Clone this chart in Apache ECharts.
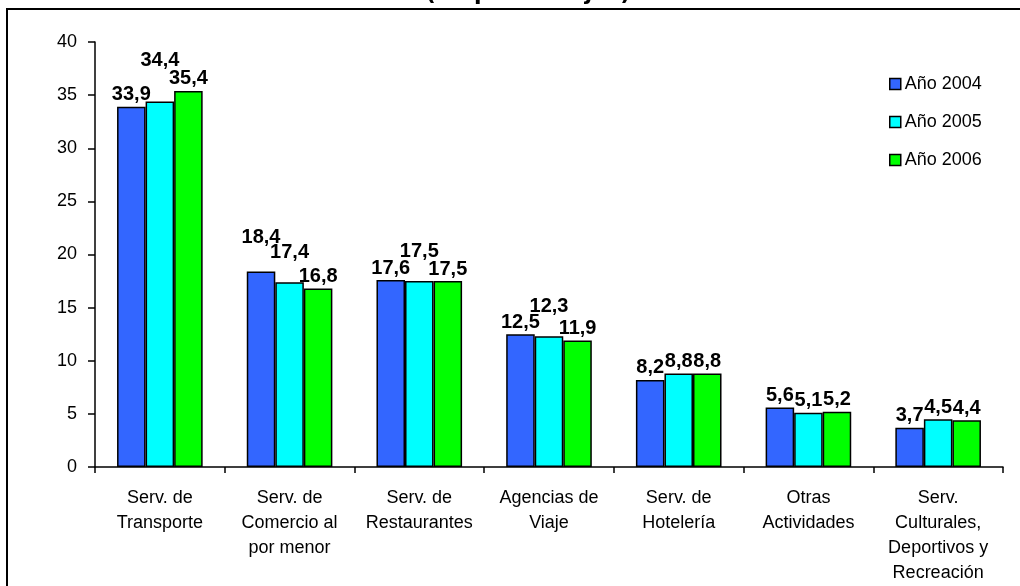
<!DOCTYPE html>
<html>
<head>
<meta charset="utf-8">
<script src="https://cdn.jsdelivr.net/npm/echarts@6/dist/echarts.min.js"></script>
<style>
html,body{margin:0;padding:0;background:#fff;}
#c{width:1020px;height:586px;}
</style>
</head>
<body>
<div id="c"></div>
<script>
const categories = [
  "Serv. de\nTransporte",
  "Serv. de\nComercio al\npor menor",
  "Serv. de\nRestaurantes",
  "Agencias de\nViaje",
  "Serv. de\nHotelería",
  "Otras\nActividades",
  "Serv.\nCulturales,\nDeportivos y\nRecreación"
];
const seriesNames = ["Año 2004", "Año 2005", "Año 2006"];
const values2004 = [33.9, 18.4, 17.6, 12.5, 8.2, 5.6, 3.7];
const values2005 = [34.4, 17.4, 17.5, 12.3, 8.8, 5.1, 4.5];
const values2006 = [35.4, 16.8, 17.5, 11.9, 8.8, 5.2, 4.4];
const yTicks = [0, 5, 10, 15, 20, 25, 30, 35, 40];
const titleText = "(en porcentajes)";

const colors = ["#3366FF", "#00FFFF", "#00FF00"];
const font = "Liberation Sans, Arial, sans-serif";

// Wide (4-character) labels of the middle bar collide with neighbours:
// lift them, as the original chart does.
function middleLift(p) {
  const i = p.dataIndex;
  if (p.labelRect.width <= p.rect.width + 10) return {};
  const pxPerUnit = p.rect.height / values2005[i];
  const extra = Math.max(0, values2006[i] - values2005[i]) * pxPerUnit;
  return { dy: -18 - extra };
}
function firstLift(p) {
  const i = p.dataIndex;
  const wide = p.labelRect.width > p.rect.width + 10;
  return wide && values2004[i] - values2005[i] > 0.8 ? { dy: -22 } : {};
}

function mk(name, data, color, layout) {
  return {
    name: name,
    type: "bar",
    data: data,
    barWidth: "22%",
    barGap: "0%",
    itemStyle: { color: color, borderColor: "#000", borderWidth: 1.5 },
    labelLayout: layout,
    label: {
      show: true,
      position: "top",
      distance: 2,
      color: "#000",
      fontFamily: font,
      fontWeight: "bold",
      fontSize: 20,
      formatter: p => String(p.value).replace(".", ",")
    }
  };
}

const chart = echarts.init(document.getElementById("c"), null, { renderer: "canvas" });
chart.setOption({
  backgroundColor: "#fff",
  animation: false,
  graphic: [
    {
      type: "rect",
      shape: { x: 7, y: 9, width: 1030, height: 600 },
      style: { fill: "none", stroke: "#000", lineWidth: 2 },
      z: 100
    },
    {
      type: "text",
      x: 528,
      y: -17,
      style: {
        text: titleText,
        fill: "#000",
        font: "bold 22px 'DejaVu Sans', sans-serif",
        align: "center",
        verticalAlign: "top"
      }
    }
  ],
  legend: {
    orient: "vertical",
    left: 884,
    top: 70,
    itemWidth: 11,
    itemHeight: 11,
    itemGap: 20,
    icon: "rect",
    textStyle: { fontFamily: font, fontSize: 18, color: "#000", padding: [0, 0, 0, -1] },
    itemStyle: { borderColor: "#000", borderWidth: 1.5 },
    data: seriesNames
  },
  grid: { left: 95, right: 17, top: 42, bottom: 119, containLabel: false },
  xAxis: {
    type: "category",
    data: categories,
    axisLine: { lineStyle: { color: "#000", width: 1.5 } },
    axisTick: { show: true, length: 6, lineStyle: { color: "#000", width: 1.5 } },
    axisLabel: {
      interval: 0,
      color: "#000",
      fontFamily: font,
      fontSize: 18,
      lineHeight: 25,
      margin: 19
    }
  },
  yAxis: {
    type: "value",
    min: yTicks[0],
    max: yTicks[yTicks.length - 1],
    interval: 5,
    splitLine: { show: false },
    axisLine: { show: true, lineStyle: { color: "#000", width: 1.5 } },
    axisTick: { show: true, length: 7, lineStyle: { color: "#000", width: 1.5 } },
    axisLabel: { color: "#000", fontFamily: font, fontSize: 18, margin: 18 }
  },
  series: [
    mk(seriesNames[0], values2004, colors[0], firstLift),
    mk(seriesNames[1], values2005, colors[1], middleLift),
    mk(seriesNames[2], values2006, colors[2], null)
  ]
});
</script>
</body>
</html>
